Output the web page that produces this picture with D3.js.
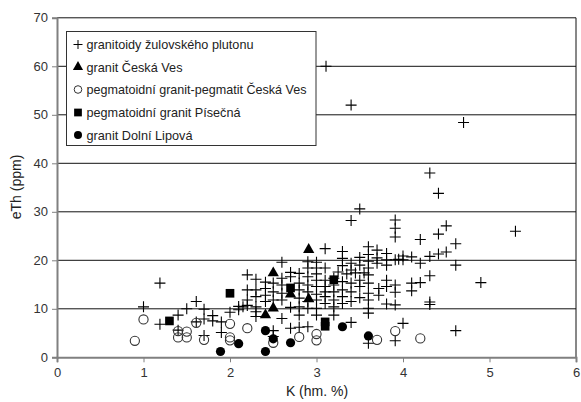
<!DOCTYPE html>
<html>
<head>
<meta charset="utf-8">
<script src="https://d3js.org/d3.v7.min.js"></script>
<style>
body { margin: 0; background: #fff; }
text { font-family: "Liberation Sans", Arial, sans-serif; }
</style>
</head>
<body>
<svg width="581" height="402"></svg>
<script>
// series values [K %, eTh ppm]
var plutonK = [1.0,1.19,1.19,1.4,1.4,1.5,1.61,1.61,1.7,1.7,1.7,1.8,1.8,1.9,1.9,2.0,2.1,2.1,
  2.2,2.2,2.2,2.2,2.15,2.3,2.3,2.3,2.3,2.3,2.3,2.41,2.41,2.41,2.41,2.5,2.5,2.5,2.5,2.5,
  2.6,2.6,2.6,2.6,2.6,2.6,2.7,2.7,2.7,2.7,2.8,2.8,2.8,2.8,2.8,2.8,2.8,
  2.9,2.9,2.9,2.9,2.9,2.9,2.9,2.9,3.0,3.0,3.0,3.0,3.0,3.0,3.0,3.0,3.0,
  3.1,3.1,3.1,3.1,3.1,3.1,3.1,3.11,3.2,3.2,3.2,3.2,3.2,3.2,
  3.3,3.3,3.3,3.3,3.3,3.3,3.3,3.4,3.4,3.4,3.4,3.4,3.4,3.4,3.4,
  3.5,3.5,3.5,3.5,3.5,3.5,3.6,3.6,3.6,3.6,3.6,3.6,3.6,3.6,3.6,3.6,3.6,
  3.7,3.7,3.7,3.72,3.72,3.81,3.81,3.81,3.81,3.81,3.81,
  3.91,3.91,3.91,3.91,3.91,3.91,3.91,3.91,4.0,4.0,4.0,4.1,4.1,4.1,4.2,4.2,4.2,
  4.31,4.31,4.31,4.31,4.31,4.41,4.41,4.41,4.5,4.5,4.61,4.61,4.61,4.7,4.9,5.3,
  3.45,3.55,3.35,3.95,3.25];
var plutonTh = [10.4,15.3,6.8,8.7,5.6,10.0,11.5,7.3,9.9,7.9,4.5,8.6,7.5,7.3,5.1,9.3,10.5,9.8,
  17.0,13.9,11.8,10.7,10.4,16.1,13.9,12.5,10.4,9.4,8.4,15.5,14.2,12.8,11.5,15.3,13.5,11.8,5.5,4.3,
  19.6,16.3,14.9,13.2,11.8,8.0,17.5,16.6,10.3,6.0,17.3,15.3,13.9,12.2,10.4,8.7,6.2,
  19.7,18.4,16.6,14.9,13.5,11.5,10.1,6.3,19.6,18.4,17.2,15.9,14.6,13.0,11.8,10.1,8.7,
  22.4,18.4,15.9,14.6,13.5,12.5,11.1,60,16.3,14.9,13.5,11.8,10.4,8.7,
  21.8,20.4,18.9,15.6,13.9,12.5,11.1,52,28.2,19.4,18.0,15.3,13.5,11.5,7.2,
  30.6,20.6,19.0,15.9,14.6,12.3,22.8,21.2,19.8,18.4,17.0,15.3,13.2,11.8,10.1,9.1,2.9,
  22.1,20.5,19.4,14.2,12.8,21.4,20.1,19.0,15.9,14.6,11.0,
  28.3,26.6,24.8,20.1,14.9,13.4,10.8,3.4,20.9,20.1,7.0,20.7,15.3,13.7,24.3,19.4,15.4,
  38,20.8,16.8,11.4,10.9,33.8,25.4,21.3,27.1,21.7,23.4,19.0,5.5,48.4,15.4,26.0,
  17.4,17.4,17.2,20.2,17.6];

var ceskaK = [2.41,2.5,2.5,2.7,2.91,2.91];
var ceskaTh = [8.7,10.1,17.4,13.0,12.0,22.2];

var pegK = [0.9,1.0,1.4,1.4,1.5,1.5,1.61,1.7,2.0,2.0,2.0,2.2,2.5,2.8,3.0,3.0,3.7,3.91,4.2];
var pegTh = [3.4,7.8,4.1,5.4,5.3,4.1,7.1,3.6,6.9,4.1,3.5,6.0,3.0,4.2,4.8,3.5,3.6,5.4,3.9];

var pisecnaK = [1.3,2.0,2.7,3.1,3.1,3.2];
var pisecnaTh = [7.5,13.2,14.3,6.4,7.3,16.0];

var lipovaK = [1.89,2.1,2.41,2.41,2.5,2.7,3.3,3.6];
var lipovaTh = [1.2,2.8,5.5,1.2,3.8,3.0,6.3,4.4];

var legendLabels = ["granitoidy žulovského plutonu", "granit Česká Ves",
  "pegmatoidní granit-pegmatit Česká Ves", "pegmatoidní granit Písečná", "granit Dolní Lipová"];
var xTicks = [0,1,2,3,4,5,6];
var yTicks = [0,10,20,30,40,50,60,70];

var svg = d3.select("svg");
var x = d3.scaleLinear().domain([0,6]).range([57,576]);
var y = d3.scaleLinear().domain([0,70]).range([357.3,17.8]);

// grid lines
svg.append("g").selectAll("line").data(yTicks.filter(function(d){return d>0;}))
  .enter().append("line")
  .attr("x1", x(0)).attr("x2", x(6))
  .attr("y1", function(d){return y(d);}).attr("y2", function(d){return y(d);})
  .attr("stroke", "#111").attr("stroke-width", 1);
// right border
svg.append("line").attr("x1", x(6)).attr("x2", x(6)).attr("y1", y(70)).attr("y2", y(0))
  .attr("stroke", "#111");

var yAxis = svg.append("g").attr("transform", "translate("+x(0)+",0)")
  .call(d3.axisLeft(y).tickValues(yTicks).tickFormat(d3.format("d")).tickSize(5).tickPadding(4));
var xAxis = svg.append("g").attr("transform", "translate(0,"+y(0)+")")
  .call(d3.axisBottom(x).tickValues(xTicks).tickFormat(d3.format("d")).tickSize(5).tickPadding(5));
[yAxis, xAxis].forEach(function(a){
  a.select(".domain").attr("stroke", "#808080").attr("stroke-width", 2);
  a.selectAll(".tick line").attr("stroke", "#808080");
  a.selectAll(".tick text").attr("fill", "#333").style("font-size", "13px")
   .style("font-family", "Liberation Sans, Arial, sans-serif");
});

// markers
function plusPath(s) {
  return "M" + (-s) + ",0H" + s + "M0," + (-s) + "V" + s;
}
var tri = d3.symbol().type(d3.symbolTriangle).size(55);
var sq = d3.symbol().type(d3.symbolSquare).size(75);

svg.append("g").selectAll("path").data(plutonK).enter().append("path")
  .attr("d", plusPath(5.5))
  .attr("transform", function(d,i){return "translate("+x(d)+","+y(plutonTh[i])+")";})
  .attr("stroke", "#000").attr("stroke-width", 1.1).attr("fill", "none");

svg.append("g").selectAll("circle").data(pegK).enter().append("circle")
  .attr("cx", function(d){return x(d);})
  .attr("cy", function(d,i){return y(pegTh[i]);})
  .attr("r", 4.6).attr("fill", "none")
  .attr("stroke", "#333").attr("stroke-width", 1.1);

svg.append("g").selectAll("path").data(ceskaK).enter().append("path")
  .attr("d", tri())
  .attr("transform", function(d,i){return "translate("+x(d)+","+y(ceskaTh[i])+")";})
  .attr("fill", "#000");

svg.append("g").selectAll("path").data(pisecnaK).enter().append("path")
  .attr("d", sq())
  .attr("transform", function(d,i){return "translate("+x(d)+","+y(pisecnaTh[i])+")";})
  .attr("fill", "#000");

svg.append("g").selectAll("circle").data(lipovaK).enter().append("circle")
  .attr("cx", function(d){return x(d);})
  .attr("cy", function(d,i){return y(lipovaTh[i]);})
  .attr("r", 4.6).attr("fill", "#000");

// legend
var lg = svg.append("g");
lg.append("rect").attr("x", 66.5).attr("y", 31.5).attr("width", 249.5).attr("height", 114)
  .attr("fill", "#fff").attr("stroke", "#333").attr("stroke-width", 1);
var rowY = [44.5, 67, 89.5, 112.5, 135];
lg.append("path").attr("d", plusPath(4.5)).attr("transform", "translate(78,"+rowY[0]+")")
  .attr("stroke", "#000").attr("fill", "none");
lg.append("path").attr("d", d3.symbol().type(d3.symbolTriangle).size(45)())
  .attr("transform", "translate(78,"+rowY[1]+")").attr("fill", "#000");
lg.append("circle").attr("cx", 78).attr("cy", rowY[2]).attr("r", 3.8)
  .attr("fill", "none").attr("stroke", "#333");
lg.append("path").attr("d", d3.symbol().type(d3.symbolSquare).size(60)())
  .attr("transform", "translate(78,"+rowY[3]+")").attr("fill", "#000");
lg.append("circle").attr("cx", 78).attr("cy", rowY[4]).attr("r", 4).attr("fill", "#000");
var legendWidths = [167, 96, 220, 154, 106];
lg.selectAll("text").data(legendLabels).enter().append("text")
  .attr("x", 86.5).attr("y", function(d,i){return rowY[i]+4.5;})
  .attr("textLength", function(d,i){return legendWidths[i];})
  .attr("lengthAdjust", "spacingAndGlyphs")
  .style("font-size", "13.5px").attr("fill", "#222")
  .text(function(d){return d;});

// axis titles
svg.append("text").attr("x", 317).attr("y", 396).attr("text-anchor", "middle")
  .style("font-size", "14px").attr("fill", "#222").text("K (hm. %)");
svg.append("text").attr("transform", "translate(21,187) rotate(-90)")
  .attr("text-anchor", "middle").style("font-size", "14px").attr("fill", "#222")
  .text("eTh (ppm)");
</script>
</body>
</html>
